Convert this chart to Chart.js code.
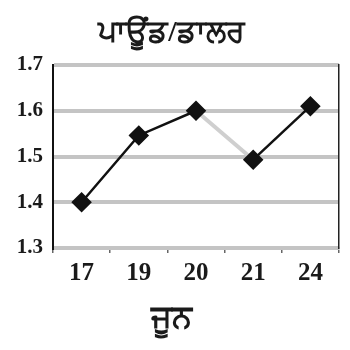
<!DOCTYPE html>
<html>
<head>
<meta charset="utf-8">
<script src="https://cdn.jsdelivr.net/npm/chart.js@4"></script>
<style>
  html, body { margin: 0; padding: 0; background: #fff; }
  #wrap { width: 350px; height: 350px; }
</style>
</head>
<body>
<div id="wrap"><canvas id="c" width="350" height="350"></canvas></div>
<script>
// Pound / dollar rate on selected June dates
const dates = ['17', '19', '20', '21', '24'];
const rates = [1.40, 1.546, 1.60, 1.493, 1.61];
const yTicks = [1.3, 1.4, 1.5, 1.6, 1.7];
const chartTitle = 'ਪਾਊਂਡ/ਡਾਲਰ';
const xTitle = 'ਜੂਨ';

const serif = "'Liberation Serif', 'DejaVu Serif', serif";

new Chart(document.getElementById('c'), {
  type: 'line',
  data: {
    labels: dates,
    datasets: [{
      data: rates,
      borderColor: '#111',
      borderWidth: 2.5,
      pointStyle: 'rectRot',
      pointRadius: 8.5,
      pointBackgroundColor: '#111',
      pointBorderColor: '#111',
      tension: 0,
      segment: {
        borderColor: ctx => ctx.p0DataIndex === 2 ? '#cfcfcf' : '#111',
        borderWidth: ctx => ctx.p0DataIndex === 2 ? 4 : 2.5
      }
    }]
  },
  options: {
    responsive: false,
    animation: false,
    layout: { padding: { left: 0, right: 7, top: 0, bottom: 0 } },
    plugins: {
      legend: { display: false },
      tooltip: { enabled: false },
      title: {
        display: true,
        text: chartTitle,
        color: '#1a1a1a',
        font: { family: serif, size: 30, weight: 'bold' },
        padding: { top: 15, bottom: 14 }
      },
      subtitle: {
        display: true,
        position: 'bottom',
        text: xTitle,
        color: '#1a1a1a',
        font: { family: serif, size: 32, weight: 'bold' },
        padding: { top: 0, bottom: 12 }
      }
    },
    scales: {
      x: {
        type: 'category',
        offset: true,
        grid: {
          offset: true,
          drawOnChartArea: false,
          drawTicks: true,
          tickLength: 5,
          color: '#666',
          lineWidth: 1.5
        },
        border: { display: true, color: '#c4c4c4', width: 3 },
        ticks: {
          color: '#1a1a1a',
          padding: 6,
          maxRotation: 0,
          font: { family: serif, size: 25, weight: 'bold' }
        },
        afterFit: s => { s.height = 51.6; }
      },
      y: {
        min: 1.3,
        max: 1.7,
        afterBuildTicks: s => { s.ticks = yTicks.map(v => ({ value: v })); },
        grid: {
          color: '#c4c4c4',
          lineWidth: 4,
          drawTicks: false
        },
        border: { display: true, color: '#111', width: 2 },
        ticks: {
          color: '#1a1a1a',
          padding: 10,
          font: { family: serif, size: 21, weight: 'bold' },
          callback: v => Number(v).toFixed(1)
        },
        afterFit: s => { s.width = 53; }
      },
      yRight: {
        position: 'right',
        min: 1.3,
        max: 1.7,
        grid: { drawOnChartArea: false, drawTicks: false },
        border: { display: true, color: '#222', width: 1.5 },
        ticks: { display: false },
        afterFit: s => { s.width = 0; }
      }
    }
  }
});
</script>
</body>
</html>
